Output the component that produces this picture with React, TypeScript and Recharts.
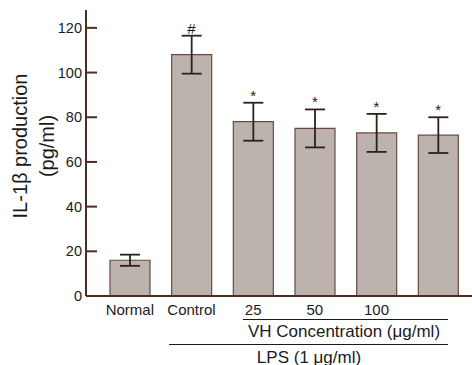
import { Bar, ComposedChart, ErrorBar, LabelList, Line, XAxis, YAxis } from 'recharts'

const groups = ['Normal', 'Control', '25', '50', '100', '']
const il1b = [16, 108, 78, 75, 73, 72]
const sem = [2.5, 8.5, 8.5, 8.5, 8.5, 8]
const marks = ['', '#', '*', '*', '*', '*']
const yTicks = [0, 20, 40, 60, 80, 100, 120]

const data = groups.map((name, i) => ({
  name,
  value: il1b[i],
  err: sem[i],
  top: il1b[i] + sem[i],
  mark: marks[i],
}))

const FONT = '"Liberation Sans", Arial, sans-serif'
const AXIS = '#4a2e22'
const INK = '#1a1a1a'

export default function App() {
  return (
    <div style={{ position: 'relative', width: 472, height: 365, fontFamily: FONT }}>
      <style>{'body{margin:0}'}</style>
      <ComposedChart width={472} height={365} data={data} margin={{ top: 10, right: 0, bottom: 39, left: 0 }}>
        <XAxis
          dataKey="name"
          padding={{ left: 13, right: 3 }}
          tickLine={false}
          axisLine={{ stroke: AXIS, strokeWidth: 2 }}
          tick={{ fill: INK, fontSize: 15, fontFamily: FONT }}
          height={30}
          interval={0}
        />
        <YAxis
          width={86}
          domain={[0, 128]}
          ticks={yTicks}
          tickSize={-11}
          tickMargin={15}
          axisLine={{ stroke: AXIS, strokeWidth: 2 }}
          tickLine={{ stroke: AXIS, strokeWidth: 2 }}
          tick={{ fill: INK, fontSize: 14.5, fontFamily: FONT }}
        />
        <Bar dataKey="value" barSize={40} fill="#bcb3ae" stroke="#6b4a3e" strokeWidth={1.2} isAnimationActive={false}>
          <ErrorBar dataKey="err" width={10} stroke="#2e211c" strokeWidth={1.8} />
        </Bar>
        <Line dataKey="top" stroke="none" dot={false} activeDot={false} isAnimationActive={false}>
          <LabelList dataKey="mark" position="top" offset={2} fill={INK} fontSize={15} fontFamily={FONT} />
        </Line>
      </ComposedChart>
      <svg width={472} height={365} style={{ position: 'absolute', left: 0, top: 0, pointerEvents: 'none' }}>
        <g fontFamily={FONT} fill={INK}>
          <text transform="translate(20,146) rotate(-90)" textAnchor="middle" dominantBaseline="central" fontSize={20}>
            IL-1β production
          </text>
          <text transform="translate(47,146) rotate(-90)" textAnchor="middle" dominantBaseline="central" fontSize={20}>
            (pg/ml)
          </text>
          <line x1={243} x2={448} y1={319.5} y2={319.5} stroke={INK} strokeWidth={1.2} />
          <text x={344} y={337} textAnchor="middle" fontSize={17}>
            VH Concentration (μg/ml)
          </text>
          <line x1={169} x2={448} y1={344.5} y2={344.5} stroke={INK} strokeWidth={1.2} />
          <text x={309} y={362.5} textAnchor="middle" fontSize={17}>
            LPS (1 μg/ml)
          </text>
        </g>
      </svg>
    </div>
  )
}
